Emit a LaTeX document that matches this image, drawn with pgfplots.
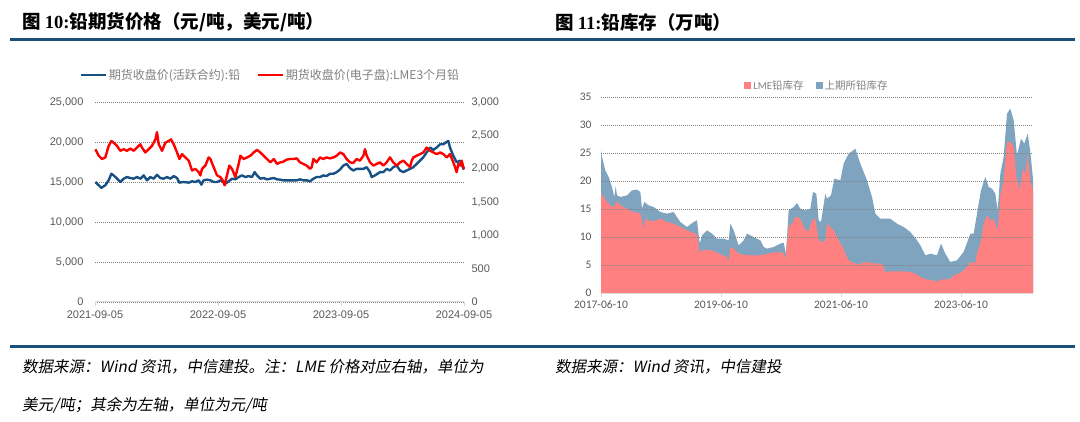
\documentclass[border=0pt]{standalone}
\usepackage{pgfplots}
\pgfplotsset{compat=1.18}
\usepackage{fontspec}
\setmainfont{Liberation Sans}
\newfontfamily\cjk{Noto Sans CJK SC}
\newfontfamily\cjkit[FakeSlant=0.18]{Noto Sans CJK SC}
\newfontfamily\tms{Liberation Serif}
\newfontfamily\calfont{Carlito}
\definecolor{rulecol}{RGB}{26,79,122}
\definecolor{shfe}{RGB}{23,80,132}
\definecolor{lme}{RGB}{255,0,0}
\definecolor{areablue}{RGB}{127,164,192}
\definecolor{areapink}{RGB}{255,128,128}
\definecolor{tickgray}{RGB}{89,89,89}
\definecolor{leggray}{RGB}{128,128,128}
\definecolor{axgray}{RGB}{217,217,217}
\definecolor{gridgray}{RGB}{130,130,130}

\pgfplotstableread{
x y
0.003 15004
0.030 14594
0.052 14266
0.084 14594
0.111 15209
0.133 16029
0.152 15824
0.179 15414
0.206 15004
0.233 15414
0.260 15619
0.287 15496
0.314 15414
0.341 15619
0.369 15414
0.396 15824
0.423 15209
0.450 15619
0.477 15414
0.504 15906
0.531 15496
0.558 15414
0.585 15619
0.613 15414
0.640 15742
0.667 15496
0.686 14922
0.721 15004
0.762 14922
0.789 15086
0.816 15004
0.843 15209
0.865 14676
0.883 15209
0.911 15291
0.938 15209
0.965 15004
0.992 15004
1.019 15209
1.046 15004
1.060 14799
1.087 15086
1.114 15414
1.141 15332
1.168 15619
1.195 15824
1.222 15619
1.249 15742
1.276 15619
1.298 16234
1.317 15824
1.344 15414
1.371 15496
1.398 15332
1.426 15414
1.453 15496
1.480 15332
1.507 15291
1.531 15209
1.558 15209
1.585 15209
1.612 15209
1.640 15209
1.667 15332
1.694 15209
1.721 15209
1.748 15086
1.775 15414
1.802 15619
1.829 15619
1.856 15824
1.883 15742
1.911 16029
1.938 16029
1.965 16234
1.992 16562
2.019 17054
2.046 17260
2.073 16726
2.100 16439
2.127 16644
2.154 16644
2.182 16644
2.209 16849
2.236 16234
2.249 15619
2.276 15824
2.317 16234
2.344 16234
2.371 16644
2.398 16439
2.425 16849
2.453 17054
2.480 16439
2.507 16234
2.534 16439
2.561 16644
2.588 16849
2.615 17260
2.642 17669
2.669 18079
2.696 18694
2.724 19309
2.751 19022
2.778 19309
2.805 19720
2.832 19720
2.859 20006
2.873 20129
2.886 19309
2.913 18284
2.940 17464
2.967 17669
2.981 17260
2.995 16644
3.000 16849
}\shfetab

\pgfplotstableread{
x y
0.003 2292
0.030 2194
0.057 2145
0.084 2169
0.111 2341
0.133 2415
0.152 2390
0.179 2341
0.206 2268
0.233 2292
0.260 2268
0.287 2302
0.314 2268
0.341 2317
0.369 2366
0.382 2317
0.409 2243
0.436 2292
0.463 2341
0.491 2440
0.504 2548
0.518 2366
0.545 2268
0.572 2390
0.599 2415
0.618 2440
0.640 2366
0.667 2243
0.686 2145
0.707 2218
0.734 2169
0.762 2120
0.789 1973
0.816 1997
0.843 1948
0.856 1899
0.870 1997
0.897 2046
0.924 2169
0.938 2145
0.965 2022
0.992 1899
1.019 1874
1.038 1825
1.054 1751
1.073 1899
1.092 2046
1.114 1997
1.141 1874
1.168 2071
1.182 2194
1.209 2145
1.236 2169
1.263 2194
1.290 2243
1.317 2282
1.344 2243
1.371 2194
1.398 2145
1.426 2095
1.453 2145
1.480 2071
1.507 2095
1.531 2105
1.558 2135
1.585 2145
1.612 2145
1.640 2154
1.667 2095
1.694 2071
1.721 2046
1.748 1997
1.762 2022
1.775 2145
1.802 2095
1.829 2169
1.856 2145
1.883 2169
1.911 2154
1.938 2169
1.965 2194
1.992 2243
2.019 2218
2.046 2145
2.073 2095
2.100 2086
2.127 2145
2.154 2120
2.182 2194
2.195 2292
2.209 2194
2.236 2095
2.263 2046
2.290 2071
2.317 2095
2.344 2046
2.371 2095
2.398 2169
2.425 2095
2.453 2046
2.480 2095
2.507 2120
2.534 2071
2.561 2022
2.575 2120
2.588 2169
2.615 2194
2.642 2218
2.669 2243
2.696 2317
2.724 2268
2.751 2243
2.778 2218
2.805 2243
2.832 2218
2.859 2169
2.886 2218
2.913 2095
2.927 2022
2.940 1948
2.954 2071
2.967 2046
2.981 2120
2.995 2022
3.000 1997
}\lmetab

\pgfplotstableread{
x y
0.000 17.74
0.044 17.14
0.100 16.25
0.156 15.65
0.211 15.36
0.239 15.83
0.267 16.43
0.322 15.65
0.378 15.36
0.433 15.06
0.489 14.64
0.544 14.46
0.600 14.35
0.656 14.17
0.683 12.98
0.711 11.49
0.739 13.27
0.794 12.98
0.878 12.80
0.989 13.27
1.100 12.68
1.211 12.38
1.322 11.79
1.433 11.19
1.544 10.71
1.600 10.48
1.644 7.02
1.683 7.62
1.767 7.74
1.878 7.50
1.989 6.90
2.100 6.43
2.128 5.54
2.156 8.21
2.211 7.92
2.294 7.02
2.378 6.85
2.489 6.73
2.656 6.73
2.767 7.02
2.878 7.20
2.989 7.32
3.044 7.02
3.072 6.13
3.128 11.79
3.183 12.38
3.239 13.57
3.294 13.57
3.350 12.68
3.406 11.19
3.461 11.07
3.517 12.98
3.572 13.27
3.628 9.40
3.683 9.11
3.739 9.40
3.767 12.38
3.822 11.79
3.878 11.19
3.933 10.00
3.989 8.81
4.033 8.21
4.072 7.02
4.128 5.83
4.211 5.36
4.322 5.06
4.350 5.36
4.406 5.54
4.489 5.36
4.600 5.24
4.683 5.24
4.739 3.75
4.822 3.87
4.933 3.87
5.044 3.87
5.156 3.75
5.239 3.45
5.322 2.86
5.433 2.38
5.544 2.26
5.600 1.96
5.656 2.38
5.822 2.50
5.878 3.15
5.989 3.57
6.072 4.35
6.156 5.54
6.239 5.36
6.267 7.02
6.333 9.40
6.378 12.38
6.433 13.87
6.489 12.98
6.544 13.27
6.611 11.19
6.656 17.44
6.711 20.12
6.767 26.96
6.822 26.96
6.878 26.07
6.922 20.71
6.978 18.33
7.033 22.20
7.072 21.31
7.111 24.58
7.156 20.12
7.200 18.33
}\lmestock

\pgfplotstableread{
x y
0.000 25.48
0.017 24.29
0.072 21.90
0.128 20.71
0.183 18.93
0.222 17.14
0.244 19.05
0.267 17.44
0.322 17.14
0.433 17.44
0.517 18.33
0.600 18.45
0.656 18.04
0.683 15.06
0.722 16.25
0.794 15.65
0.878 15.36
0.989 14.46
1.100 14.17
1.211 14.46
1.322 12.68
1.433 11.79
1.544 12.68
1.600 12.98
1.644 8.81
1.683 10.30
1.767 11.19
1.850 10.60
1.933 9.70
2.044 9.70
2.128 9.40
2.156 12.38
2.211 11.19
2.294 8.51
2.378 9.40
2.433 10.60
2.544 10.00
2.656 9.40
2.711 8.21
2.767 7.92
2.878 8.21
2.989 8.81
3.044 8.99
3.083 7.02
3.128 14.76
3.211 15.36
3.267 16.07
3.322 15.06
3.406 14.76
3.489 15.06
3.533 18.04
3.589 17.74
3.628 12.98
3.667 12.68
3.739 17.74
3.767 16.85
3.833 17.44
3.889 20.42
3.989 20.12
4.044 23.10
4.128 24.88
4.239 25.77
4.322 23.10
4.433 20.12
4.517 17.14
4.572 14.17
4.656 13.27
4.739 13.27
4.822 13.27
4.933 12.38
5.044 11.79
5.156 10.89
5.267 9.40
5.322 8.51
5.406 6.73
5.489 7.02
5.600 6.73
5.667 8.81
5.739 7.02
5.822 5.54
5.933 5.83
6.044 7.32
6.156 10.60
6.211 10.60
6.267 14.17
6.333 18.33
6.406 20.71
6.461 18.93
6.517 18.63
6.572 17.74
6.611 14.76
6.656 21.31
6.711 24.29
6.767 32.02
6.822 32.92
6.878 30.83
6.933 24.58
7.000 27.56
7.056 26.67
7.111 28.45
7.156 25.18
7.200 20.42
}\totalstock

\begin{document}
\begin{tikzpicture}[x=1pt,y=1pt]
\path[use as bounding box, fill=white] (0,0) rectangle (1080,421);

% titles
\node[anchor=west, inner sep=0] at (22,399) {\fontsize{18.5}{20}\selectfont{\cjk\bfseries 图 }{\tms\bfseries 10:}{\cjk\bfseries 铅期货价格（元/吨，美元/吨）}};
\node[anchor=west, inner sep=0] at (555,399) {\fontsize{18.5}{20}\selectfont{\cjk\bfseries 图 }{\tms\bfseries 11:}{\cjk\bfseries 铅库存（万吨）}};
\draw[rulecol, line width=3pt] (10,381) -- (1075,381);
\draw[rulecol, line width=3pt] (10,75) -- (1075,75);

% footers
\node[anchor=west, inner sep=0] at (22,54) {\fontsize{15.5}{17}\selectfont\cjkit 数据来源：Wind 资讯，中信建投。注：LME 价格对应右轴，单位为};
\node[anchor=west, inner sep=0] at (22,16) {\fontsize{15.5}{17}\selectfont\cjkit 美元/吨；其余为左轴，单位为元/吨};
\node[anchor=west, inner sep=0] at (555,54) {\fontsize{15.5}{17}\selectfont\cjkit 数据来源：Wind 资讯，中信建投};

% left chart, left axis
\begin{axis}[
  at={(95pt,119pt)}, anchor=south west,
  width=369pt, height=200pt, scale only axis,
  xmin=0, xmax=3, ymin=0, ymax=25000,
  axis x line*=bottom, axis y line*=left,
  x axis line style={draw=axgray, line width=1pt, -},
  y axis line style={draw=none},
  xtick={0,1,2,3},
  xticklabels={2021-09-05,2022-09-05,2023-09-05,2024-09-05},
  ytick={0,5000,10000,15000,20000,25000},
  scaled y ticks=false,
  /pgf/number format/.cd, 1000 sep={,}, assume math mode=true,
  /pgfplots/.cd,
  ymajorgrids,
  major grid style={draw=gridgray, line width=0.6pt, dash pattern=on 1pt off 1pt},
  tick align=outside, major tick length=4pt,
  xtick style={draw=axgray, line width=0.8pt},
  ytick style={draw=none},
  tick label style={font=\fontsize{11}{12}\selectfont, text=tickgray},
  yticklabel style={xshift=-4pt},
  xticklabel style={yshift=-1pt},
  clip=false,
]
\addplot[shfe, line width=2.4pt, line join=round] table[x=x,y=y] {\shfetab};
\end{axis}

% left chart, right axis
\begin{axis}[
  at={(95pt,119pt)}, anchor=south west,
  width=369pt, height=200pt, scale only axis,
  xmin=0, xmax=3, ymin=0, ymax=3000,
  axis y line*=right, hide x axis,
  y axis line style={draw=none},
  ytick={0,500,1000,1500,2000,2500,3000},
  scaled y ticks=false,
  /pgf/number format/.cd, 1000 sep={,}, assume math mode=true,
  /pgfplots/.cd,
  ytick style={draw=none},
  tick label style={font=\fontsize{11}{12}\selectfont, text=tickgray},
  yticklabel style={xshift=4pt},
  legend columns=2,
  legend style={at={(0.475,1)}, anchor=south, yshift=17pt, draw=none, fill=none,
    font=\cjk\fontsize{12}{13}\selectfont, text=leggray,
    /tikz/every even column/.append style={column sep=14pt}},
  legend image code/.code={\draw[#1, line width=2.5pt] (0pt,0pt) -- (25pt,0pt);},
  clip=false,
]
\addlegendimage{shfe}
\addlegendentry{期货收盘价(活跃合约):铅}
\addplot[lme, line width=2.4pt, line join=round] table[x=x,y=y] {\lmetab};
\addlegendentry{期货收盘价(电子盘):LME3个月铅}
\end{axis}

% right chart
\begin{axis}[
  at={(601pt,128pt)}, anchor=south west,
  width=432pt, height=196pt, scale only axis,
  xmin=0, xmax=7.2, ymin=0, ymax=35,
  axis x line*=bottom, axis y line*=left,
  x axis line style={draw=axgray, line width=1pt, -},
  y axis line style={draw=none},
  xtick={0,2,4,6},
  xticklabels={2017-06-10,2019-06-10,2021-06-10,2023-06-10},
  ytick={0,5,10,15,20,25,30,35},
  /pgf/number format/assume math mode=true,
  ymajorgrids,
  major grid style={draw=gridgray, line width=0.6pt, dash pattern=on 1pt off 1pt},
  axis on top,
  tick align=outside, major tick length=4pt,
  xtick style={draw=axgray, line width=0.8pt},
  ytick style={draw=none},
  tick label style={font=\calfont\fontsize{11.5}{12}\selectfont, text=tickgray},
  yticklabel style={xshift=-2pt},
  legend columns=2,
  legend style={at={(0.5,1)}, anchor=south, yshift=2pt, draw=none, fill=none,
    font=\cjk\fontsize{10.5}{12}\selectfont, text=leggray,
    /tikz/every even column/.append style={column sep=10pt}},
  legend image code/.code={\fill[#1] (0pt,-3.5pt) rectangle (7pt,3.5pt);},
]
\addplot[fill=areablue, draw=none, forget plot] table[x=x,y=y] {\totalstock} \closedcycle;
\addplot[fill=areapink, draw=none] table[x=x,y=y] {\lmestock} \closedcycle;
\addlegendentry{{\calfont LME}铅库存}
\addlegendimage{fill=areablue, draw=none}
\addlegendentry{上期所铅库存}
\end{axis}
\end{tikzpicture}
\end{document}
